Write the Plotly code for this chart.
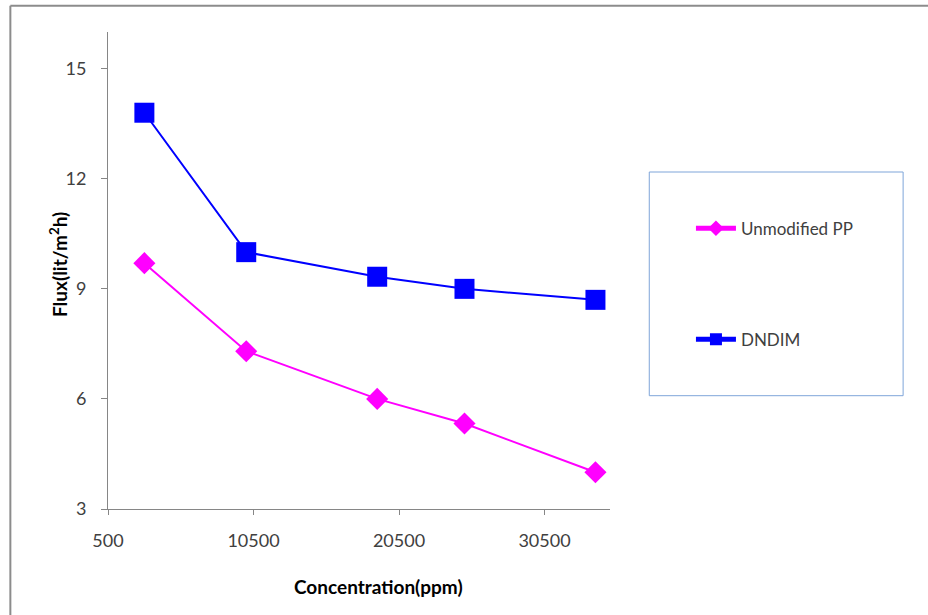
import plotly.graph_objects as go

# Membrane flux vs feed concentration
concentration = [3000, 10000, 19000, 25000, 34000]
flux_unmodified_pp = [9.7, 7.3, 6.0, 5.33, 4.0]
flux_dndim = [13.8, 10.0, 9.33, 9.0, 8.7]

x_ticks = [500, 10500, 20500, 30500]
y_ticks = [3, 6, 9, 12, 15]

FONT = "Lato, 'Open Sans', sans-serif"
AXIS_GRAY = "#868686"

fig = go.Figure()
fig.add_trace(go.Scatter(
    x=concentration, y=flux_unmodified_pp, name="Unmodified PP",
    mode="lines+markers",
    line=dict(color="#FF00FF", width=2),
    marker=dict(symbol="diamond", size=17, color="#FF00FF"),
    legendgroup="a",
))
fig.add_trace(go.Scatter(
    x=concentration, y=flux_dndim, name="DNDIM",
    mode="lines+markers",
    line=dict(color="#0000FF", width=2),
    marker=dict(symbol="square", size=20, color="#0000FF"),
    legendgroup="b",
))

# plot-area geometry in pixels
L, R, T, B = 107.7, 610.0, 32.3, 509.3
W, H = 928, 615
pw, ph = R - L, B - T


def px(x):
    return (x - L) / pw


def py(y):
    return (B - y) / ph


shapes = [
    # outer chart frame (left and top edges)
    dict(type="line", xref="paper", yref="paper", x0=px(10), x1=px(10), y0=py(6), y1=py(700),
         line=dict(color="#8c8c8c", width=2)),
    dict(type="line", xref="paper", yref="paper", x0=px(10), x1=px(1000), y0=py(6), y1=py(6),
         line=dict(color="#8c8c8c", width=2)),
    # legend frame
    dict(type="rect", xref="paper", yref="paper", x0=px(649.3), x1=px(903.3), y0=py(396), y1=py(172.3),
         line=dict(color="#7FA5D9", width=1), fillcolor="rgba(0,0,0,0)"),
]

annotations = [
    dict(text="<b>Concentration(ppm)</b>", xref="paper", yref="paper",
         x=px(378), y=py(587), xanchor="center", yanchor="middle", showarrow=False,
         font=dict(family=FONT, size=19, color="#000000")),
    dict(text="<b>Flux(lit/m<sup>2</sup>h)</b>", xref="paper", yref="paper",
         x=px(58), y=py(265), xanchor="center", yanchor="middle", showarrow=False,
         textangle=-90, font=dict(family=FONT, size=19, color="#000000")),
]

fig.update_layout(
    width=W, height=H, autosize=False,
    margin=dict(l=L, r=W - R, t=T, b=H - B, pad=0),
    paper_bgcolor="white", plot_bgcolor="white",
    font=dict(family=FONT, size=18, color="#404040"),
    shapes=shapes, annotations=annotations,
    showlegend=True,
    legend=dict(
        x=px(691), y=py(211), xanchor="left", yanchor="top",
        bgcolor="rgba(0,0,0,0)", borderwidth=0,
        itemsizing="constant", itemwidth=40,
        tracegroupgap=86,
        font=dict(family=FONT, size=17, color="#404040"),
    ),
    xaxis=dict(
        range=[500, 35000], tickvals=x_ticks, ticktext=[str(v) for v in x_ticks],
        showgrid=False, zeroline=False, showline=True, linecolor=AXIS_GRAY, linewidth=1,
        ticks="outside", ticklen=5, tickcolor=AXIS_GRAY, ticklabelstandoff=10,
    ),
    yaxis=dict(
        range=[3, 16], tickvals=y_ticks,
        showgrid=False, zeroline=False, showline=True, linecolor=AXIS_GRAY, linewidth=1,
        ticks="outside", ticklen=6, tickcolor=AXIS_GRAY, ticklabelstandoff=11,
    ),
)

fig.write_html("out.html")
